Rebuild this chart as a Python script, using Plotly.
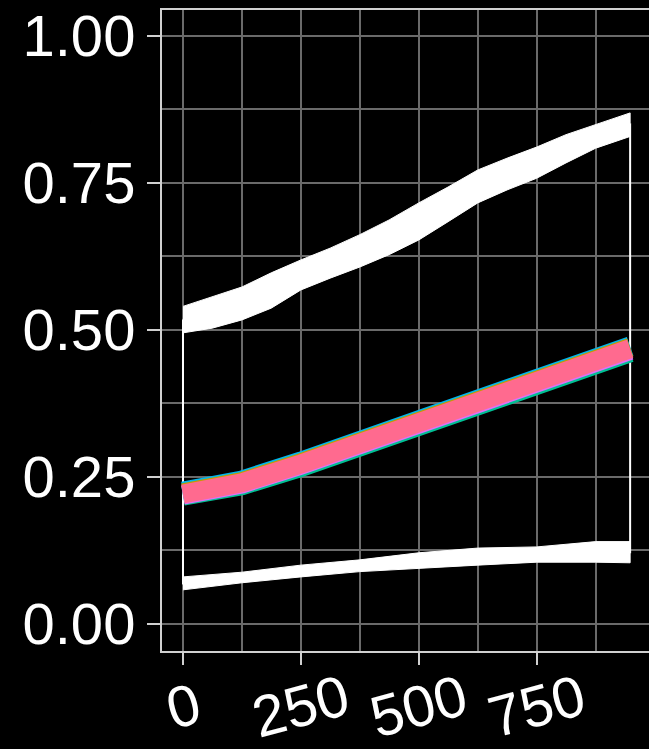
import plotly.graph_objects as go

# ---- data ----
x_up = [0, 62, 125, 187, 250, 312, 375, 437, 500, 562, 625, 687, 750, 812, 875, 948]
upper_hi = [0.540, 0.556, 0.573, 0.597, 0.619, 0.639, 0.662, 0.687, 0.716, 0.743,
            0.772, 0.792, 0.811, 0.832, 0.849, 0.869]
upper_lo = [0.495, 0.503, 0.517, 0.537, 0.568, 0.588, 0.607, 0.628, 0.653, 0.684,
            0.716, 0.738, 0.758, 0.784, 0.809, 0.829]

x_pts = [0, 125, 250, 375, 500, 625, 750, 875, 948]
lower_hi = [0.080, 0.088, 0.100, 0.109, 0.121, 0.129, 0.131, 0.140, 0.140]
lower_lo = [0.058, 0.070, 0.080, 0.089, 0.095, 0.100, 0.105, 0.105, 0.104]

series_cyan   = [0.225, 0.244, 0.276, 0.312, 0.349, 0.385, 0.416, 0.453, 0.472]
series_green  = [0.218, 0.236, 0.267, 0.303, 0.340, 0.376, 0.405, 0.442, 0.462]
series_orange = [0.223, 0.242, 0.274, 0.310, 0.347, 0.383, 0.414, 0.451, 0.470]
series_violet = [0.219, 0.238, 0.270, 0.306, 0.343, 0.379, 0.409, 0.446, 0.465]
series_pink   = [0.221, 0.240, 0.272, 0.308, 0.345, 0.381, 0.412, 0.449, 0.468]

x_tick_vals = [0, 250, 500, 750]
x_tick_text = ["0", "250", "500", "750"]
y_tick_vals = [0.00, 0.25, 0.50, 0.75, 1.00]
y_tick_text = ["0.00", "0.25", "0.50", "0.75", "1.00"]

FONT = "Liberation Sans, Arial, sans-serif"
GRID = "#6a6a6a"
AXIS = "#d0d0d0"

fig = go.Figure()

# ribbon outline (upper mid line -> lower mid line, closed)
upper_mid = [(a + b) / 2 for a, b in zip(upper_hi, upper_lo)]
lower_mid = [(a + b) / 2 for a, b in zip(lower_hi, lower_lo)]
fig.add_trace(go.Scatter(
    x=x_up + x_pts[::-1] + [x_up[0]],
    y=upper_mid + lower_mid[::-1] + [upper_mid[0]],
    mode="lines", line=dict(color="white", width=2),
    hoverinfo="skip", showlegend=False))

# thick white bands
for xs, hi, lo in [(x_up, upper_hi, upper_lo), (x_pts, lower_hi, lower_lo)]:
    fig.add_trace(go.Scatter(
        x=xs + xs[::-1], y=hi + lo[::-1],
        mode="lines", fill="toself", fillcolor="white",
        line=dict(color="white", width=1),
        hoverinfo="skip", showlegend=False))

# coloured series
for ys, col, w in [(series_cyan, "#00B6EB", 20), (series_green, "#00C094", 20),
                   (series_orange, "#C49A00", 19), (series_violet, "#DF70F8", 19),
                   (series_pink, "#FF6A8F", 19)]:
    fig.add_trace(go.Scatter(
        x=x_pts, y=ys, mode="lines", line=dict(color=col, width=w),
        hoverinfo="skip", showlegend=False))

# x tick labels (rotated, centred on ticks)
for v, t in zip(x_tick_vals, x_tick_text):
    fig.add_annotation(x=v, xref="x", y=0, yref="paper", yshift=-54,
                       text=t, showarrow=False, textangle=-15,
                       xanchor="center", yanchor="middle",
                       font=dict(family=FONT, size=58, color="white"))

fig.update_layout(
    width=649, height=749,
    margin=dict(l=162, r=0, t=10, b=98),
    paper_bgcolor="black", plot_bgcolor="black",
    showlegend=False,
    xaxis=dict(range=[-44.5, 988], tickvals=x_tick_vals, ticktext=[""] * 4,
               showgrid=True, gridcolor=GRID, gridwidth=2,
               minor=dict(dtick=125, tick0=0, showgrid=True, gridcolor=GRID, gridwidth=2),
               ticks="outside", ticklen=12, tickwidth=2, tickcolor=AXIS,
               showline=True, linecolor=AXIS, linewidth=2, mirror=True,
               zeroline=False, fixedrange=True),
    yaxis=dict(range=[-0.046, 1.044], tickvals=y_tick_vals, ticktext=y_tick_text,
               showgrid=True, gridcolor=GRID, gridwidth=2,
               minor=dict(dtick=0.125, tick0=0, showgrid=True, gridcolor=GRID, gridwidth=2),
               ticks="outside", ticklen=13, tickwidth=2, tickcolor=AXIS,
               showline=True, linecolor=AXIS, linewidth=2, mirror=False,
               zeroline=False, fixedrange=True,
               tickfont=dict(family=FONT, size=58, color="white")),
)

fig.write_html("out.html",
               config={"displayModeBar": False},
               post_script="document.body.style.margin='0';"
                           "document.body.style.overflow='hidden';"
                           "document.body.style.background='black';")
